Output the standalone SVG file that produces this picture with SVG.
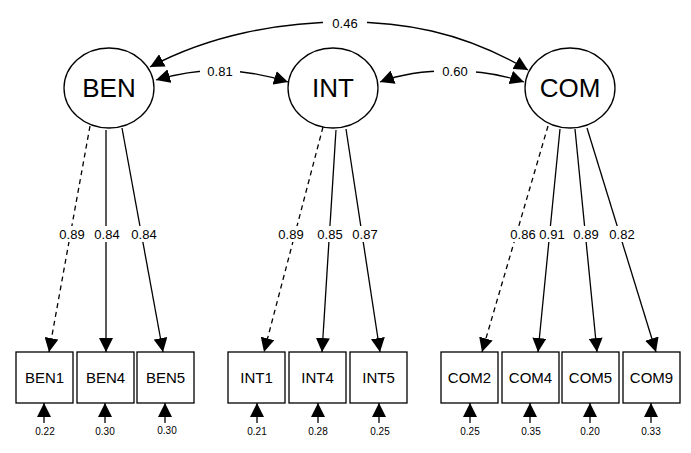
<svg xmlns="http://www.w3.org/2000/svg" width="691" height="453" viewBox="0 0 691 453">
<style>
text{font-family:"Liberation Sans",Arial,sans-serif;fill:#000;text-anchor:middle}
.lat{font-size:26px}
.obs{font-size:15px}
.lab{font-size:13px}
.err{font-size:10px}
ellipse,rect{fill:#fff;stroke:#000;stroke-width:1.3}
path,line{fill:none;stroke:#000;stroke-width:1.3}
.d{stroke-dasharray:5,4}
.bg{fill:#fff;stroke:none}
</style>
<defs>
<marker id="a" viewBox="0 0 10 10" refX="10" refY="5" markerWidth="14" markerHeight="14" markerUnits="userSpaceOnUse" orient="auto-start-reverse"><path d="M0,0L10,5L0,10Z" style="fill:#000;stroke:none"/></marker>
</defs>
<g id="connectors">
<path d="M528,70 C460,30 400,22 345,22 C280,22 210,35 150,67" marker-start="url(#a)" marker-end="url(#a)"/>
<rect class="bg" x="323" y="15" width="44" height="16"/>
<path d="M156,80 C200,67 240,67 288,82" marker-start="url(#a)" marker-end="url(#a)"/>
<rect class="bg" x="200" y="64" width="40" height="16"/>
<path d="M380,82 C420,67 480,67 524,82" marker-start="url(#a)" marker-end="url(#a)"/>
<rect class="bg" x="434" y="64" width="42" height="16"/>
<line class="d" x1="90" y1="126" x2="49" y2="352" marker-end="url(#a)"/>
<line x1="106" y1="130" x2="106" y2="352" marker-end="url(#a)"/>
<line x1="122" y1="128" x2="163" y2="352" marker-end="url(#a)"/>
<line class="d" x1="323" y1="127" x2="264" y2="352" marker-end="url(#a)"/>
<line x1="336" y1="130" x2="322" y2="352" marker-end="url(#a)"/>
<line x1="346" y1="129" x2="380" y2="352" marker-end="url(#a)"/>
<line class="d" x1="548" y1="126" x2="482" y2="352" marker-end="url(#a)"/>
<line x1="560" y1="129" x2="538" y2="352" marker-end="url(#a)"/>
<line x1="575" y1="129" x2="597" y2="352" marker-end="url(#a)"/>
<line x1="587" y1="128" x2="656" y2="352" marker-end="url(#a)"/>
<g class="errs">
<line x1="44" y1="423" x2="44" y2="403" marker-end="url(#a)"/>
<line x1="105" y1="423" x2="105" y2="403" marker-end="url(#a)"/>
<line x1="165" y1="423" x2="165" y2="403" marker-end="url(#a)"/>
<line x1="257" y1="423" x2="257" y2="403" marker-end="url(#a)"/>
<line x1="318" y1="423" x2="318" y2="403" marker-end="url(#a)"/>
<line x1="379" y1="423" x2="379" y2="403" marker-end="url(#a)"/>
<line x1="470" y1="423" x2="470" y2="403" marker-end="url(#a)"/>
<line x1="530" y1="423" x2="530" y2="403" marker-end="url(#a)"/>
<line x1="590" y1="423" x2="590" y2="403" marker-end="url(#a)"/>
<line x1="651" y1="423" x2="651" y2="403" marker-end="url(#a)"/>
</g>
<g class="lab">
<rect class="bg" x="56" y="226" width="130" height="16"/>
<rect class="bg" x="276" y="226" width="105" height="16"/>
<rect class="bg" x="508" y="226" width="132" height="16"/>
<text x="72" y="239">0.89</text><text x="107" y="239">0.84</text><text x="144" y="239">0.84</text>
<text x="291" y="239">0.89</text><text x="330" y="239">0.85</text><text x="365" y="239">0.87</text>
<text x="523" y="239">0.86</text><text x="552" y="239">0.91</text><text x="586" y="239">0.89</text><text x="622" y="239">0.82</text>
<text x="345" y="28">0.46</text><text x="220" y="76">0.81</text><text x="455" y="76">0.60</text>
</g>
<g class="err">
<text x="45" y="435">0.22</text><text x="105" y="435">0.30</text><text x="167" y="434">0.30</text>
<text x="257" y="435">0.21</text><text x="318" y="435">0.28</text><text x="380" y="435">0.25</text>
<text x="470" y="435">0.25</text><text x="531" y="435">0.35</text><text x="590" y="435">0.20</text><text x="651" y="435">0.33</text>
</g>
</g>
<g id="BEN"><ellipse cx="109" cy="88" rx="45" ry="40"/><text class="lat" x="109" y="97">BEN</text></g>
<g id="INT"><ellipse cx="333" cy="88" rx="45" ry="40"/><text class="lat" x="333" y="97">INT</text></g>
<g id="COM"><ellipse cx="570" cy="88" rx="45" ry="40"/><text class="lat" x="570" y="97">COM</text></g>
<g id="BEN1"><rect x="16" y="352" width="57" height="51"/><text class="obs" x="44.5" y="383">BEN1</text></g>
<g id="BEN4"><rect x="77" y="352" width="57" height="51"/><text class="obs" x="105.5" y="383">BEN4</text></g>
<g id="BEN5"><rect x="137" y="352" width="57" height="51"/><text class="obs" x="165.5" y="383">BEN5</text></g>
<g id="INT1"><rect x="228" y="352" width="57" height="51"/><text class="obs" x="256.5" y="383">INT1</text></g>
<g id="INT4"><rect x="289" y="352" width="57" height="51"/><text class="obs" x="317.5" y="383">INT4</text></g>
<g id="INT5"><rect x="350" y="352" width="57" height="51"/><text class="obs" x="378.5" y="383">INT5</text></g>
<g id="COM2"><rect x="441" y="352" width="57" height="51"/><text class="obs" x="469.5" y="383">COM2</text></g>
<g id="COM4"><rect x="502" y="352" width="57" height="51"/><text class="obs" x="530.5" y="383">COM4</text></g>
<g id="COM5"><rect x="562" y="352" width="57" height="51"/><text class="obs" x="590.5" y="383">COM5</text></g>
<g id="COM9"><rect x="623" y="352" width="57" height="51"/><text class="obs" x="651.5" y="383">COM9</text></g>
</svg>
